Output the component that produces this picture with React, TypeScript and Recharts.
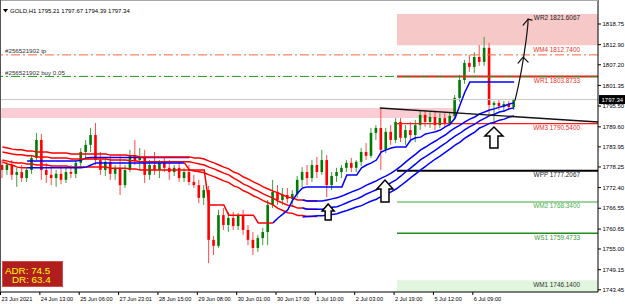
import React from 'react';
import { ComposedChart, Bar, Line, XAxis, YAxis, ReferenceArea, ReferenceLine, ReferenceDot } from 'recharts';

// 2-hour candles (23 Jun - 7 Jul 2021)
const opens = [
  1778.8, 1777.4, 1778.8, 1776.0, 1776.8, 1775.1, 1777.4, 1780.8, 1785.9, 1777.4,
  1776.0, 1775.1, 1776.3, 1774.6, 1776.8, 1776.3, 1779.4, 1782.5, 1784.5, 1787.3,
  1780.2, 1777.4, 1779.7, 1776.3, 1778.0, 1773.1, 1777.4, 1781.6, 1780.2, 1780.8,
  1776.0, 1778.8, 1777.4, 1779.4, 1778.0, 1776.8, 1778.0, 1775.1, 1776.8, 1774.0,
  1773.1, 1769.5, 1771.7, 1757.6, 1755.9, 1764.6, 1761.8, 1763.8, 1761.5, 1764.4,
  1760.4, 1757.6, 1755.3, 1758.1, 1759.8, 1767.5, 1771.2, 1768.9, 1770.3, 1769.2,
  1770.6, 1774.6, 1776.8, 1775.1, 1778.8, 1776.8, 1780.2, 1773.1, 1775.7, 1776.8,
  1778.0, 1779.4, 1778.0, 1779.7, 1782.5, 1781.4, 1787.9, 1789.3, 1783.1, 1788.2,
  1785.9, 1791.0, 1786.5, 1788.7, 1787.3, 1790.1, 1793.0, 1791.0, 1792.4, 1790.1,
  1792.1, 1790.7, 1792.7, 1797.8, 1802.9, 1807.7, 1806.6, 1809.4, 1808.0, 1812.0,
  1795.8, 1796.4, 1795.5, 1796.1, 1795.21,
];
const highs = [
  1780.2, 1779.7, 1780.2, 1778.0, 1778.8, 1778.0, 1781.6, 1787.9, 1787.6, 1779.4,
  1778.0, 1777.4, 1778.5, 1778.0, 1778.8, 1780.2, 1783.6, 1785.9, 1789.3, 1790.7,
  1782.5, 1780.8, 1781.6, 1778.8, 1781.4, 1778.8, 1783.1, 1785.9, 1783.6, 1783.1,
  1780.2, 1782.5, 1780.2, 1781.1, 1780.2, 1778.8, 1779.7, 1778.0, 1778.8, 1776.0,
  1774.6, 1773.1, 1772.9, 1758.7, 1766.1, 1766.6, 1765.5, 1765.5, 1765.2, 1766.1,
  1761.8, 1759.8, 1759.0, 1761.0, 1768.9, 1774.6, 1773.1, 1772.3, 1772.3, 1771.7,
  1775.7, 1778.2, 1778.8, 1780.2, 1781.1, 1783.1, 1781.6, 1776.8, 1778.0, 1778.8,
  1780.2, 1780.8, 1780.2, 1783.6, 1785.0, 1789.3, 1790.1, 1795.0, 1789.3, 1790.1,
  1792.1, 1792.1, 1790.1, 1791.0, 1791.6, 1794.4, 1794.4, 1793.8, 1793.8, 1793.5,
  1793.5, 1793.8, 1798.6, 1804.3, 1808.6, 1810.0, 1810.8, 1812.8, 1815.1, 1813.4,
  1796.9, 1797.2, 1796.9, 1796.9, 1797.67,
];
const lows = [
  1775.1, 1776.0, 1774.6, 1772.6, 1774.0, 1774.0, 1776.3, 1780.2, 1774.6, 1773.7,
  1773.1, 1772.6, 1773.4, 1773.7, 1775.1, 1775.1, 1778.2, 1780.2, 1782.5, 1778.8,
  1776.0, 1775.7, 1774.6, 1774.6, 1770.3, 1772.3, 1776.8, 1778.8, 1777.4, 1773.7,
  1774.6, 1776.0, 1775.1, 1776.8, 1774.6, 1775.7, 1774.0, 1774.0, 1773.1, 1772.3,
  1768.0, 1767.5, 1751.0, 1753.3, 1755.3, 1760.4, 1759.8, 1760.4, 1760.4, 1759.0,
  1756.1, 1753.3, 1754.2, 1756.1, 1756.1, 1766.6, 1767.5, 1767.5, 1768.0, 1766.9,
  1769.5, 1772.6, 1773.1, 1774.0, 1775.1, 1776.0, 1769.7, 1771.7, 1774.0, 1775.1,
  1776.8, 1776.8, 1776.8, 1778.5, 1780.2, 1780.8, 1785.9, 1777.4, 1782.2, 1784.5,
  1785.0, 1785.3, 1784.5, 1785.9, 1785.3, 1788.7, 1789.6, 1789.3, 1788.7, 1789.3,
  1789.6, 1789.9, 1791.6, 1796.7, 1801.8, 1805.2, 1804.9, 1806.9, 1806.9, 1793.0,
  1791.0, 1794.4, 1793.8, 1794.4, 1794.39,
];
const closes = [
  1777.4, 1778.8, 1776.0, 1776.8, 1775.1, 1777.4, 1780.8, 1785.9, 1777.4, 1776.0,
  1775.1, 1776.3, 1774.6, 1776.8, 1776.3, 1779.4, 1782.5, 1784.5, 1787.3, 1780.2,
  1777.4, 1779.7, 1776.3, 1778.0, 1773.1, 1777.4, 1781.6, 1780.2, 1780.8, 1776.0,
  1778.8, 1777.4, 1779.4, 1778.0, 1776.8, 1778.0, 1775.1, 1776.8, 1774.0, 1773.1,
  1769.5, 1771.7, 1757.6, 1755.9, 1764.6, 1761.8, 1763.8, 1761.5, 1764.4, 1760.4,
  1757.6, 1755.3, 1758.1, 1759.8, 1767.5, 1771.2, 1768.9, 1770.3, 1769.2, 1770.6,
  1774.6, 1776.8, 1775.1, 1778.8, 1776.8, 1780.2, 1773.1, 1775.7, 1776.8, 1778.0,
  1779.4, 1778.0, 1779.7, 1782.5, 1781.4, 1787.9, 1789.3, 1783.1, 1788.2, 1785.9,
  1791.0, 1786.5, 1788.7, 1787.3, 1790.1, 1793.0, 1791.0, 1792.4, 1790.1, 1792.1,
  1790.7, 1792.7, 1797.8, 1802.9, 1807.7, 1806.6, 1809.4, 1808.0, 1812.0, 1795.8,
  1796.4, 1795.5, 1796.1, 1795.2, 1797.34,
];

// envelope while falling (bars 0-64)
const redUpper = [
  1783.9, 1783.6, 1783.3, 1783.1, 1783.1, 1782.8, 1782.8, 1782.5, 1782.5, 1782.5,
  1782.2, 1782.2, 1782.2, 1782.2, 1781.9, 1781.9, 1781.9, 1781.9, 1781.9, 1781.9,
  1781.9, 1781.9, 1781.6, 1781.6, 1781.6, 1781.6, 1781.4, 1781.4, 1781.1, 1781.1,
  1781.1, 1781.1, 1781.1, 1781.1, 1781.1, 1781.1, 1781.1, 1781.1, 1781.1, 1780.8,
  1780.8, 1780.5, 1779.9, 1779.4, 1778.8, 1778.2, 1777.7, 1776.8, 1776.3, 1775.4,
  1774.8, 1774.0, 1773.4, 1772.6, 1772.0, 1771.4, 1770.9, 1770.3, 1769.7, 1769.5,
  1768.9, 1768.9, 1768.6, 1768.6, 1768.6,
];
const redMid = [
  1782.5, 1782.2, 1781.9, 1781.7, 1781.7, 1781.4, 1781.4, 1781.1, 1781.1, 1781.1,
  1780.8, 1780.8, 1780.8, 1780.8, 1780.5, 1780.5, 1780.5, 1780.5, 1780.5, 1780.5,
  1780.5, 1780.5, 1780.2, 1780.2, 1780.2, 1780.2, 1780.0, 1780.0, 1779.7, 1779.7,
  1779.7, 1779.7, 1779.7, 1779.7, 1779.7, 1779.7, 1779.7, 1779.7, 1779.7, 1779.4,
  1779.1, 1778.8, 1778.2, 1777.7, 1777.1, 1776.5, 1776.0, 1775.1, 1774.3, 1773.4,
  1772.8, 1772.0, 1771.4, 1770.6, 1770.0, 1769.4, 1768.6, 1768.0, 1767.4, 1767.2,
  1766.6, 1766.6, 1766.3, 1766.3, 1766.3,
];
const redLower = [
  1780.2, 1779.9, 1779.6, 1779.4, 1779.4, 1779.1, 1779.1, 1778.8, 1778.8, 1778.8,
  1778.5, 1778.5, 1778.5, 1778.5, 1778.2, 1778.2, 1778.2, 1778.2, 1778.2, 1778.2,
  1778.2, 1778.2, 1777.9, 1777.9, 1777.9, 1777.9, 1777.7, 1777.7, 1777.4, 1777.4,
  1777.4, 1777.4, 1777.4, 1777.4, 1777.4, 1777.4, 1777.4, 1777.4, 1777.4, 1777.1,
  1776.9, 1776.6, 1776.0, 1775.5, 1774.9, 1774.3, 1773.8, 1772.9, 1772.4, 1771.5,
  1770.9, 1770.1, 1769.5, 1768.7, 1768.1, 1767.5, 1766.5, 1765.9, 1765.3, 1765.1,
  1764.5, 1764.5, 1764.2, 1764.2, 1764.2,
];
// envelope while rising (bars 61-104)
const blueUpper = [
  1768.9, 1768.6, 1768.6, 1768.6, 1768.6, 1768.9, 1769.2, 1769.5, 1770.0, 1770.6,
  1771.2, 1771.7, 1772.3, 1773.1, 1773.7, 1774.3, 1775.1, 1775.7, 1776.5, 1777.4,
  1778.5, 1779.7, 1780.8, 1781.9, 1783.1, 1783.9, 1784.8, 1785.6, 1786.5, 1787.3,
  1788.4, 1789.3, 1790.1, 1791.0, 1791.8, 1792.4, 1793.3, 1793.8, 1794.4, 1794.7,
  1795.2, 1795.5, 1796.1, 1796.4,
];
const blueMid = [
  1766.6, 1766.3, 1766.3, 1766.3, 1766.3, 1766.6, 1766.8, 1767.0, 1767.5, 1768.1,
  1768.7, 1769.2, 1769.8, 1770.6, 1771.2, 1771.8, 1772.6, 1773.0, 1773.8, 1774.6,
  1775.7, 1776.9, 1778.0, 1779.1, 1780.3, 1781.2, 1782.1, 1783.0, 1784.0, 1784.9,
  1786.0, 1787.0, 1787.8, 1788.8, 1789.7, 1790.4, 1791.3, 1792.0, 1792.8, 1793.2,
  1793.8, 1794.1, 1794.7, 1795.0,
];
const blueLower = [
  1764.1, 1764.2, 1764.3, 1764.4, 1764.4, 1764.6, 1764.8, 1765.0, 1765.5, 1765.9,
  1766.4, 1766.9, 1767.3, 1768.0, 1768.6, 1769.1, 1769.9, 1770.4, 1771.2, 1772.0,
  1773.0, 1774.1, 1775.2, 1776.3, 1777.4, 1778.4, 1779.5, 1780.5, 1781.4, 1782.4,
  1783.4, 1784.4, 1785.3, 1786.4, 1787.3, 1788.1, 1789.3, 1789.9, 1790.6, 1790.9,
  1791.5, 1791.8, 1792.4, 1792.7,
];
// trailing stop line, split by colour
const trailRedA = [1779.7, 1779.1, 1778.8, 1778.2, 1778.0, 1778.0]; // bars 0-5
const trailBlueA = [
  1778.0, 1778.0, 1778.0, 1778.0, 1778.0, 1778.0, 1778.0, 1778.0, 1778.0, 1778.0,
  1778.0, 1778.0, 1778.2, 1778.8, 1779.4, 1779.4, 1779.4, 1779.4, 1779.4, 1779.4,
  1779.4, 1779.4, 1779.4, 1779.4, 1779.4, 1779.4, 1779.4, 1779.4, 1779.4, 1779.4,
  1779.4, 1779.4, 1779.4,
]; // bars 5-37
const trailRedB = [
  1779.4, 1777.4, 1777.4, 1777.4, 1777.4, 1767.5, 1767.5, 1767.5, 1767.5, 1764.6,
  1764.6, 1764.6, 1764.6, 1764.6, 1764.6, 1762.4, 1762.4, 1762.4, 1762.4,
]; // bars 37-55
const trailBlueB = [
  1762.4, 1763.8, 1764.9, 1766.1, 1768.9, 1770.9, 1772.3, 1772.6, 1772.6, 1772.6,
  1772.6, 1772.6, 1772.6, 1772.6, 1772.6, 1776.0, 1776.0, 1776.0, 1778.0, 1778.8,
  1779.4, 1780.2, 1782.5, 1783.1, 1783.6, 1783.9, 1783.9, 1783.9, 1785.9, 1786.5,
  1786.7, 1787.6, 1787.9, 1788.2, 1788.7, 1789.6, 1790.4, 1792.1, 1795.8, 1799.5,
  1802.3, 1802.3, 1802.3, 1802.3, 1802.3, 1802.3, 1802.3, 1802.3, 1802.3, 1802.3,
]; // bars 55-104
const blueSide = [
  1779.9, 1779.9, 1779.9, 1779.9, 1779.9, 1779.9, 1779.9, 1779.9, 1779.9, 1779.9,
  1779.9, 1780.2, 1780.8, 1780.9, 1780.9, 1780.9, 1780.9, 1780.9, 1780.9, 1780.9,
  1780.9, 1780.9, 1780.9, 1780.9, 1780.9, 1780.9, 1780.9, 1780.9, 1780.9, 1780.9,
  1780.9, 1780.9, 1780.9, 1780.9,
]; // bars 5-38

const timeTicks = [-0.5, 7.5, 15.5, 23.5, 31.5, 39.5, 47.5, 55.5, 63.5, 71.5, 79.5, 87.5, 95.5];
const timeLabels = [
  '23 Jun 2021', '24 Jun 13:00', '25 Jun 06:00', '27 Jun 23:01', '28 Jun 15:00', '29 Jun 08:00',
  '30 Jun 01:00', '30 Jun 17:00', '1 Jul 10:00', '2 Jul 03:00', '2 Jul 19:00', '5 Jul 12:00', '6 Jul 09:00',
];
const priceTicks = [
  1818.75, 1812.9, 1807.2, 1801.35, 1795.5, 1789.6, 1783.95,
  1778.25, 1772.4, 1766.55, 1760.65, 1755.0, 1749.15, 1743.45,
];

const pivotNames = ['WR2', 'WM4', 'WR1', 'WM3', 'WPP', 'WM2', 'WS1', 'WM1'];
const pivotValues = [1821.6067, 1812.74, 1803.8733, 1790.54, 1777.2067, 1768.34, 1759.4733, 1746.14];

const lastPrice = 1797.34;
const tpPrice = 1810.0;
const buyPrice = 1803.9;
const oldZone = [1792.12, 1794.95];
const title = 'GOLD,H1  1795.21 1797.67 1794.39 1797.34';

const at = (arr: number[], start: number, i: number) =>
  i >= start && i - start < arr.length ? arr[i - start] : null;

const rows = opens.map((o, i) => ({
  i, o, h: highs[i], l: lows[i], c: closes[i],
  ru: at(redUpper, 0, i), rm: at(redMid, 0, i), rl: at(redLower, 0, i),
  bu: at(blueUpper, 61, i), bm: at(blueMid, 61, i), bl: at(blueLower, 61, i),
  tra: at(trailRedA, 0, i), tba: at(trailBlueA, 5, i),
  trb: at(trailRedB, 37, i), tbb: at(trailBlueB, 55, i),
  bs: at(blueSide, 5, i),
}));

const FONT = '"Liberation Sans", Arial, sans-serif';
const X_MIN = -0.5;
const X_MAX = 121.05;
const WEEK_START = 80.2;

const Candle = (props: any) => {
  const { x, y, width, height, payload } = props;
  const { o, h, l, c } = payload;
  const cx = x + width / 2;
  const top = Math.min(y, y + height);
  const full = Math.abs(height);
  const k = h === l ? 0 : full / (h - l);
  const bodyTop = top + (h - Math.max(o, c)) * k;
  const bodyH = Math.max(1, Math.abs(o - c) * k);
  const up = c >= o;
  return (
    <g>
      <line x1={cx} x2={cx} y1={top} y2={top + full} stroke={up ? '#3f9f3f' : '#ff4a4a'} strokeWidth={1} />
      <rect x={cx - 1.3} y={bodyTop} width={2.6} height={bodyH} fill={up ? '#007a00' : '#ff0000'} />
    </g>
  );
};

const TimeTick = (props: any) => {
  const { x, y, payload } = props;
  const idx = timeTicks.indexOf(payload.value);
  return (
    <g>
      <line x1={x + 0.5} x2={x + 0.5} y1={y} y2={y + 3} stroke="#000" />
      <text x={x + 1.5} y={y + 8.5} fontSize={5.6} fontFamily={FONT} fill="#000">{timeLabels[idx]}</text>
    </g>
  );
};

const PriceTick = (props: any) => {
  const { x, y, payload } = props;
  return (
    <g>
      <line x1={x} x2={x + 3} y1={y} y2={y} stroke="#000" />
      <text x={x + 4.5} y={y + 2.2} fontSize={6} fontFamily={FONT} fill="#000">{payload.value.toFixed(2)}</text>
    </g>
  );
};

const pivotColors: Record<string, string> = {
  WR2: '#222', WM4: '#e8322a', WR1: '#e8322a', WM3: '#e8322a',
  WPP: '#222', WM2: '#4cae4c', WS1: '#3c9a3c', WM1: '#333',
};

const pivotLabel = (name: string, value: number) => (p: any) => (
  <text x={p.cx} y={p.cy + 6.5} textAnchor="end" fontSize={6.4} fontFamily={FONT} fill={pivotColors[name]}>
    {`${name} ${value.toFixed(4)}`}
  </text>
);

const orderLabel = (txt: string) => (p: any) => (
  <text x={p.cx + 5} y={p.cy - 1.5} fontSize={6.2} fontFamily={FONT} fill="#333">{txt}</text>
);

const blockArrow = (w: number, h: number, hh: number, sw: number) => (p: any) => {
  const { cx, cy } = p;
  const d = `M${cx},${cy} L${cx + w / 2},${cy + hh} L${cx + sw / 2},${cy + hh} L${cx + sw / 2},${cy + h} ` +
    `L${cx - sw / 2},${cy + h} L${cx - sw / 2},${cy + hh} L${cx - w / 2},${cy + hh} Z`;
  return <path d={d} fill="#fff" stroke="#000" strokeWidth={1.5} strokeLinejoin="miter" />;
};

const handArrow = (p: any) => {
  const { cx, cy } = p;
  return (
    <g fill="none" stroke="#111" strokeWidth={1.2} strokeLinecap="round">
      <path d={`M${cx},${cy} C${cx + 5},${cy - 20} ${cx + 9},${cy - 45} ${cx + 11},${cy - 60} S${cx + 13},${cy - 76} ${cx + 13},${cy - 81}`} />
      <path d={`M${cx + 8},${cy - 75} L${cx + 13},${cy - 81} L${cx + 17},${cy - 80}`} />
      <path d={`M${cx + 3},${cy - 37} L${cx + 8},${cy - 43} L${cx + 13},${cy - 38}`} />
    </g>
  );
};

const priceTag = (p: any) => (
  <g>
    <rect x={p.cx + 1} y={p.cy - 4.5} width={27} height={9} fill="#000" />
    <text x={p.cx + 3.5} y={p.cy + 2.2} fontSize={6} fontFamily={FONT} fill="#fff">{lastPrice.toFixed(2)}</text>
  </g>
);

const lineSeries = [
  { key: 'bs', color: '#0000ff' },
  { key: 'ru', color: '#ff0000' },
  { key: 'rm', color: '#ff0000' },
  { key: 'rl', color: '#ff0000' },
  { key: 'tra', color: '#ff0000' },
  { key: 'tba', color: '#0000ff' },
  { key: 'trb', color: '#ff0000' },
  { key: 'bu', color: '#0000ff' },
  { key: 'bm', color: '#0000ff' },
  { key: 'bl', color: '#0000ff' },
  { key: 'tbb', color: '#0000ff' },
];

export default function App() {
  return (
    <div style={{ position: 'absolute', left: 0, top: 0, width: 625, height: 304, background: '#fff' }}>
      <ComposedChart width={625} height={304} data={rows} margin={{ top: 0, right: 0, bottom: 0, left: 0 }}>
        <XAxis dataKey="i" type="number" domain={[X_MIN, X_MAX]} allowDataOverflow ticks={timeTicks} interval={0}
          tickSize={0} tickMargin={0} height={12} axisLine={{ stroke: '#000' }} tickLine={false} tick={<TimeTick />} />
        <YAxis orientation="right" domain={[1742.82, 1825.55]} allowDataOverflow ticks={priceTicks} interval={0}
          width={27} tickSize={0} tickMargin={0} axisLine={{ stroke: '#000' }} tickLine={false} tick={<PriceTick />} />

        <ReferenceArea x1={X_MIN} x2={92.3} y1={oldZone[0]} y2={oldZone[1]} fill="#facdd4" fillOpacity={1} stroke="none" ifOverflow="visible" />
        <ReferenceArea x1={WEEK_START} x2={X_MAX} y1={pivotValues[1]} y2={pivotValues[0]} fill="#f6c8c8" fillOpacity={1} stroke="none" ifOverflow="visible" />
        <ReferenceArea x1={WEEK_START} x2={X_MAX} y1={1742.82} y2={pivotValues[7]} fill="#e2f6df" fillOpacity={1} stroke="none" ifOverflow="visible" />

        <ReferenceLine y={lastPrice} stroke="#c6c6c6" ifOverflow="visible" />
        <ReferenceLine y={tpPrice} stroke="#f0683a" strokeDasharray="9 3 2 3" ifOverflow="visible" />
        <ReferenceLine segment={[{ x: WEEK_START, y: pivotValues[2] }, { x: X_MAX, y: pivotValues[2] }]} stroke="#ff1a1a" strokeWidth={2} ifOverflow="visible" />
        <ReferenceLine y={buyPrice} stroke="#209a20" strokeDasharray="9 3 2 3" ifOverflow="visible" />
        <ReferenceLine segment={[{ x: WEEK_START, y: pivotValues[3] }, { x: X_MAX, y: pivotValues[3] }]} stroke="#ff1a1a" strokeWidth={1.2} ifOverflow="visible" />
        <ReferenceLine segment={[{ x: WEEK_START, y: pivotValues[4] }, { x: X_MAX, y: pivotValues[4] }]} stroke="#000" strokeWidth={2} ifOverflow="visible" />
        <ReferenceLine segment={[{ x: WEEK_START, y: pivotValues[5] }, { x: X_MAX, y: pivotValues[5] }]} stroke="#9dd49d" strokeWidth={2} ifOverflow="visible" />
        <ReferenceLine segment={[{ x: WEEK_START, y: pivotValues[6] }, { x: X_MAX, y: pivotValues[6] }]} stroke="#1e8c1e" strokeWidth={1.5} ifOverflow="visible" />

        {lineSeries.map((s) => (
          <Line key={s.key} dataKey={s.key} stroke={s.color} strokeWidth={1.5} dot={false} activeDot={false}
            connectNulls={false} isAnimationActive={false} type="linear" />
        ))}

        <Bar dataKey={(d: any) => [d.l, d.h]} shape={Candle} barSize={4} isAnimationActive={false} />

        <ReferenceLine segment={[{ x: 76.7, y: 1794.95 }, { x: X_MAX, y: 1790.98 }]} stroke="#111" strokeWidth={1.3} ifOverflow="visible" />

        {pivotNames.map((n, k) => (
          <ReferenceDot key={n} x={117.4} y={pivotValues[k]} r={0} ifOverflow="visible" shape={pivotLabel(n, pivotValues[k])} />
        ))}
        <ReferenceDot x={X_MIN} y={tpPrice} r={0} ifOverflow="visible" shape={orderLabel('#256521902 tp')} />
        <ReferenceDot x={X_MIN} y={buyPrice} r={0} ifOverflow="visible" shape={orderLabel('#256521902 buy 0.05')} />

        <ReferenceDot x={66.2} y={1767.75} r={0} ifOverflow="visible" shape={blockArrow(12, 16, 7, 6)} />
        <ReferenceDot x={77.75} y={1774.55} r={0} ifOverflow="visible" shape={blockArrow(16, 22, 9, 8)} />
        <ReferenceDot x={99.9} y={1789.57} r={0} ifOverflow="visible" shape={blockArrow(18, 21, 9, 8)} />
        <ReferenceDot x={104.2} y={1797.2} r={0} ifOverflow="visible" shape={handArrow} />
        <ReferenceDot x={X_MAX} y={lastPrice} r={0} ifOverflow="visible" shape={priceTag} />
      </ComposedChart>

      <svg width={625} height={304} style={{ position: 'absolute', left: 0, top: 0, pointerEvents: 'none' }}>
        <line x1={0} x2={598} y1={0.5} y2={0.5} stroke="#a8a8a8" />
        <line x1={0.5} x2={0.5} y1={0} y2={292} stroke="#555" />
        <polygon points="3,9 8,9 5.5,12.5" fill="#000" />
        <text x={10} y={13} fontSize={6} fontFamily={FONT} fill="#000">{title}</text>
        <rect x={2.5} y={261.5} width={60} height={25} fill="#b01e1e" stroke="#d24a4a" />
        <text x={5} y={273.5} fontSize={9.8} fontFamily={FONT} fill="#ffff00">ADR: 74.5</text>
        <text x={12} y={283} fontSize={9.8} fontFamily={FONT} fill="#ffff00">DR: 63.4</text>
      </svg>
    </div>
  );
}
